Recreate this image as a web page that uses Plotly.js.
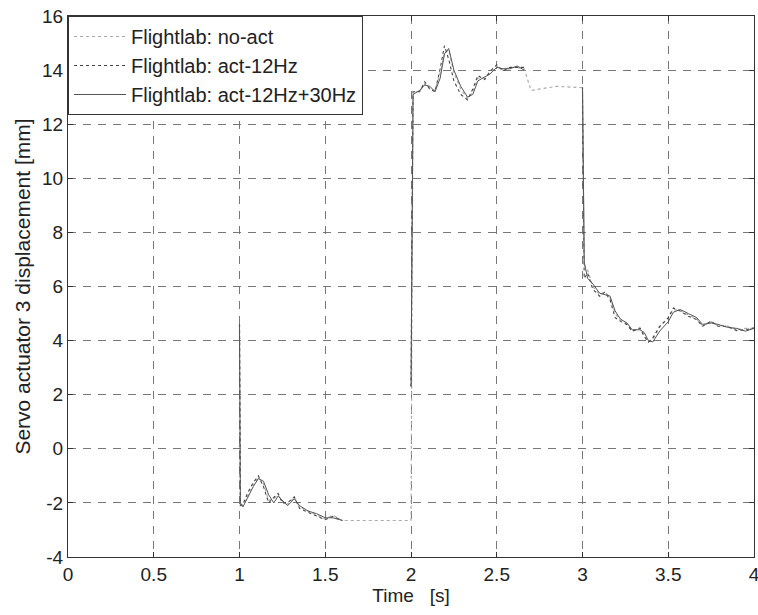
<!DOCTYPE html>
<html>
<head>
<meta charset="utf-8">
<script src="https://cdn.plot.ly/plotly-3.0.1.min.js"></script>
<style>html,body{margin:0;padding:0;background:#fff;}#chart{width:758px;height:615px;}</style>
</head>
<body>
<div id="chart"></div>
<script>
const seriesNames = ["Flightlab: no-act", "Flightlab: act-12Hz", "Flightlab: act-12Hz+30Hz"];
const xTickVals = [0, 0.5, 1, 1.5, 2, 2.5, 3, 3.5, 4];
const xTickText = ["0", "0.5", "1", "1.5", "2", "2.5", "3", "3.5", "4"];
const yTickVals = [-4, -2, 0, 2, 4, 6, 8, 10, 12, 14, 16];
const yTickText = ["-4", "-2", "0", "2", "4", "6", "8", "10", "12", "14", "16"];

const time = [1.0, 1.005, 1.02, 1.05, 1.08, 1.11, 1.14, 1.17, 1.2, 1.225,
  1.25, 1.28, 1.32, 1.35, 1.4, 1.45, 1.5, 1.545, 1.6, 1.8,
  2.0, 2.012, 2.05, 2.08, 2.11, 2.14, 2.17, 2.195, 2.22, 2.25,
  2.29, 2.33, 2.36, 2.39, 2.43, 2.46, 2.5, 2.536, 2.577, 2.62,
  2.66, 2.7, 2.85, 3.0, 3.01, 3.03, 3.06, 3.1, 3.13, 3.16,
  3.19, 3.22, 3.26, 3.29, 3.335, 3.36, 3.384, 3.41, 3.45, 3.5,
  3.53, 3.57, 3.617, 3.666, 3.7, 3.75, 3.79, 3.84, 3.9, 3.95, 4.0];

const noAct = [4.6, -2.0, -2.1, -1.7, -1.35, -1.05, -1.3, -1.9, -1.85, -1.7,
  -1.95, -2.05, -1.8, -2.15, -2.3, -2.45, -2.6, -2.45, -2.65, -2.65,
  -2.65, 13.2, 13.2, 13.5, 13.3, 13.25, 13.9, 14.6, 14.75, 13.9,
  13.3, 12.95, 13.2, 13.7, 13.7, 13.9, 14.15, 14.0, 14.1, 14.1,
  14.05, 13.25, 13.4, 13.35, 6.8, 6.6, 6.0, 5.7, 5.8, 5.6,
  5.0, 4.75, 4.6, 4.35, 4.45, 4.2, 3.95, 4.05, 4.5, 4.85,
  5.15, 5.1, 4.95, 4.8, 4.55, 4.7, 4.55, 4.55, 4.4, 4.45, 4.45];

const act12 = [4.6, -2.1, -2.05, -1.6, -1.25, -1.0, -1.4, -2.0, -1.8, -1.65,
  -2.0, -2.0, -1.78, -2.2, -2.35, -2.5, -2.62, -2.5, -2.65, null,
  2.3, 13.2, 13.2, 13.57, 13.3, 13.2, 14.05, 14.9, 14.4, 13.6,
  13.1, 12.9, 13.3, 13.8, 13.65, 13.95, 14.2, 13.97, 14.1, 14.1,
  14.1, null, null, 13.36, 6.3, 6.5, 5.9, 5.64, 5.79, 5.52,
  4.85, 4.72, 4.59, 4.34, 4.47, 4.15, 3.94, 4.1, 4.53, 4.84,
  5.21, 5.09, 4.9, 4.78, 4.53, 4.72, 4.53, 4.53, 4.37, 4.4, 4.47];

const act12_30 = [4.6, -2.0, -2.15, -1.75, -1.4, -1.1, -1.2, -1.7, -2.0, -1.75,
  -1.9, -2.1, -1.85, -2.1, -2.3, -2.4, -2.55, -2.55, -2.65, null,
  2.3, 13.1, 13.25, 13.45, 13.4, 13.2, 13.7, 14.6, 14.8, 14.0,
  13.4, 13.0, 13.1, 13.6, 13.75, 13.85, 14.1, 14.05, 14.05, 14.15,
  14.0, null, null, 13.36, 6.9, 6.3, 6.1, 5.75, 5.7, 5.65,
  5.1, 4.8, 4.65, 4.4, 4.4, 4.3, 4.0, 3.95, 4.35, 4.7,
  5.05, 5.15, 5.0, 4.85, 4.6, 4.65, 4.6, 4.5, 4.45, 4.35, 4.45];

const traces = [
  {x: time, y: noAct, name: seriesNames[0], type: 'scatter', mode: 'lines',
   line: {color: '#aaaaaa', width: 1.2, dash: 'dot'}},
  {x: time, y: act12, name: seriesNames[1], type: 'scatter', mode: 'lines',
   line: {color: '#444444', width: 1.1, dash: 'dot'}},
  {x: time, y: act12_30, name: seriesNames[2], type: 'scatter', mode: 'lines',
   line: {color: '#555555', width: 1}}
];

const fam = 'Liberation Sans, Arial, sans-serif';
const tickFont = {family: fam, size: 19, color: '#222'};

const layout = {
  width: 758, height: 615,
  margin: {l: 68, r: 4, t: 16, b: 58},
  paper_bgcolor: '#fff', plot_bgcolor: '#fff',
  font: tickFont,
  showlegend: true,
  legend: {x: 0, y: 1, xanchor: 'left', yanchor: 'top', bgcolor: '#fff',
    bordercolor: '#333', borderwidth: 1, font: {family: fam, size: 20, color: '#222'},
    itemwidth: 52, tracegroupgap: 0},
  xaxis: {range: [0, 4], tickvals: xTickVals, ticktext: xTickText,
    showgrid: true, gridcolor: '#777', griddash: '8px,7px', gridwidth: 1,
    showline: true, linecolor: '#333', linewidth: 1, mirror: 'ticks',
    ticks: 'inside', ticklen: 5, tickcolor: '#333', zeroline: false,
    tickfont: tickFont, ticklabeloverflow: 'allow',
    title: {text: 'Time   [s]', font: tickFont, standoff: 2}},
  yaxis: {range: [-4, 16], tickvals: yTickVals, ticktext: yTickText,
    showgrid: true, gridcolor: '#777', griddash: '8px,7px', gridwidth: 1,
    showline: true, linecolor: '#333', linewidth: 1, mirror: 'ticks',
    ticks: 'inside', ticklen: 5, tickcolor: '#333', zeroline: false,
    tickfont: tickFont, ticklabeloverflow: 'allow',
    title: {text: 'Servo actuator 3 displacement [mm]', font: {family: fam, size: 21, color: '#222'}, standoff: 5}}
};

Plotly.newPlot('chart', traces, layout, {displayModeBar: false, staticPlot: true});
</script>
</body>
</html>
